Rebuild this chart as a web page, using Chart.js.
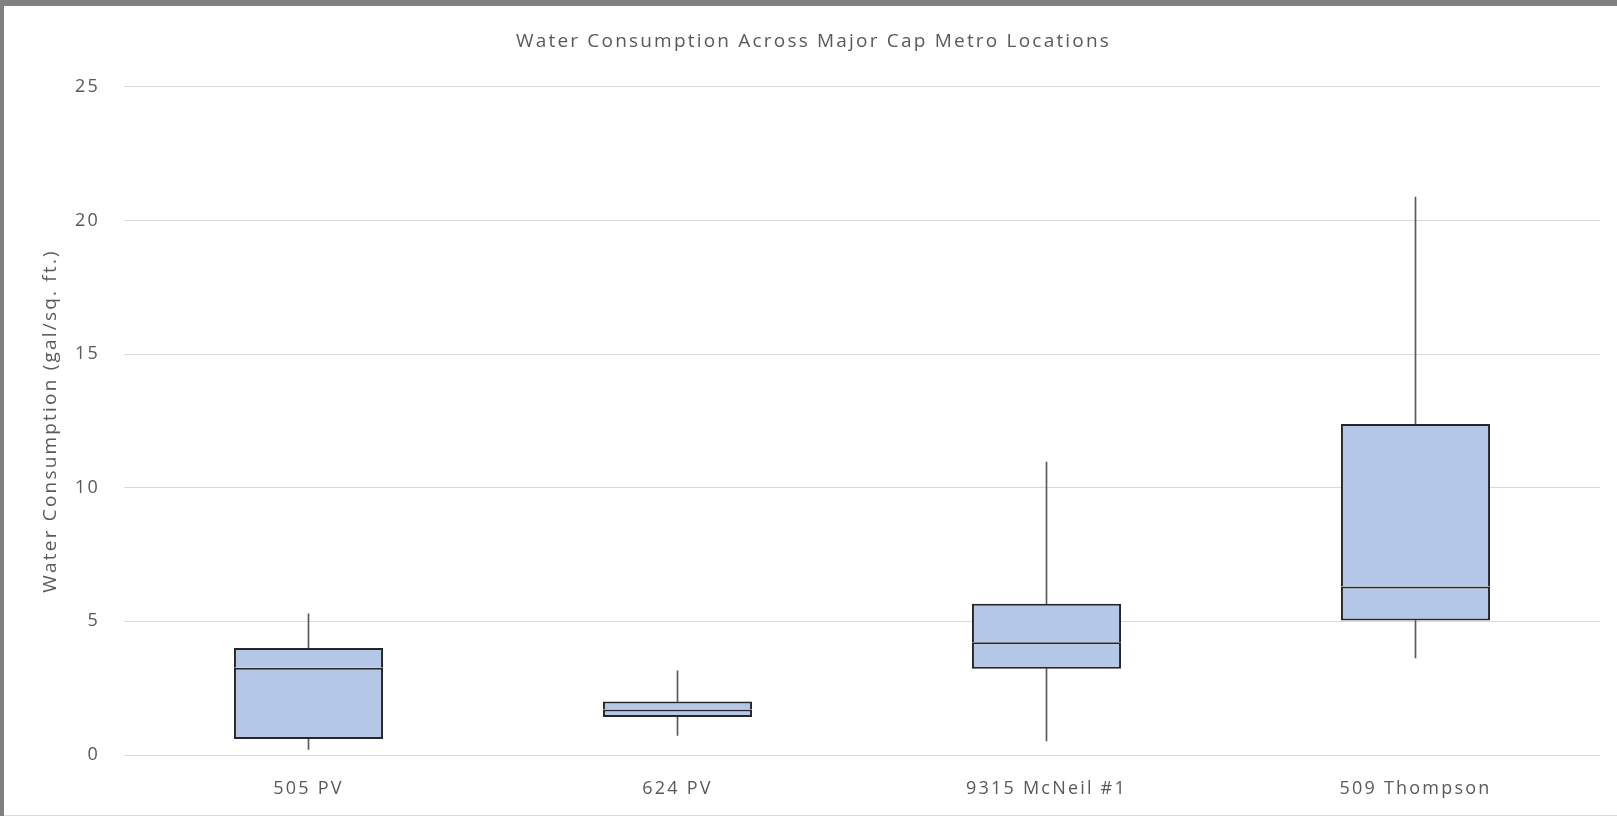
<!DOCTYPE html>
<html>
<head>
<meta charset="utf-8">
<script src="https://cdn.jsdelivr.net/npm/chart.js@4.4.1/dist/chart.umd.min.js"></script>
<style>
  html, body { margin: 0; padding: 0; background: #808080; }
  #wrap { position: absolute; left: 4px; top: 6px; width: 1613px; height: 809px; background: #ffffff; border-bottom: 1px solid #dcdcdc; }
  canvas { display: block; }
</style>
</head>
<body>
<div id="wrap"><canvas id="c" width="1613" height="809"></canvas></div>
<script>
const categories = ['505 PV', '624 PV', '9315 McNeil #1', '509 Thompson'];
const minValues    = [0.21, 0.73, 0.53, 3.63];
const q1Values     = [0.60, 1.42, 3.23, 5.03];
const medianValues = [3.26, 1.70, 4.22, 6.30];
const q3Values     = [4.00, 2.00, 5.66, 12.38];
const maxValues    = [5.28, 3.15, 10.96, 20.87];
const yTicks = [0, 5, 10, 15, 20, 25];

const pair = (a, b) => a.map((v, i) => [v, b[i]]);

const boxFill = '#b4c7e7';
const boxLine = '#262626';
const whiskerColor = '#595959';
const textColor = '#595959';
const fontFamily = '"Open Sans", "Noto Sans", "Liberation Sans", sans-serif';

const whiskerDs = (data) => ({
  data, backgroundColor: whiskerColor, borderWidth: 0,
  barThickness: 1, grouped: false, order: 3
});
const boxDs = (data, bw) => ({
  data, backgroundColor: boxFill, borderColor: boxLine, borderWidth: bw,
  borderSkipped: false, categoryPercentage: 1, barPercentage: 0.404,
  grouped: false, order: 1
});

const spacingPlugin = {
  id: 'spacing',
  beforeUpdate(chart) { chart.ctx.letterSpacing = '2.2px'; },
  beforeLayout(chart) { chart.ctx.letterSpacing = '2.2px'; },
  beforeDraw(chart) { chart.ctx.letterSpacing = '2.2px'; }
};

new Chart(document.getElementById('c'), {
  type: 'bar',
  plugins: [spacingPlugin],
  data: {
    labels: categories,
    datasets: [
      whiskerDs(pair(minValues, q1Values)),
      whiskerDs(pair(q3Values, maxValues)),
      boxDs(pair(q1Values, medianValues), { top: 2, bottom: 2, left: 2, right: 2 }),
      boxDs(pair(medianValues, q3Values), { top: 2, bottom: 0, left: 2, right: 2 })
    ]
  },
  options: {
    responsive: false,
    animation: false,
    layout: { padding: { left: 6, right: 0, top: 0, bottom: 0 } },
    plugins: {
      legend: { display: false },
      tooltip: { enabled: false },
      title: {
        display: true,
        text: 'Water Consumption Across Major Cap Metro Locations',
        color: textColor,
        font: { family: fontFamily, size: 19, weight: 'normal' },
        padding: { top: 24, bottom: 34 }
      }
    },
    scales: {
      x: {
        grid: { display: false, drawTicks: false },
        border: { display: false },
        ticks: { color: textColor, font: { family: fontFamily, size: 18 }, padding: 23 },
        afterFit: (s) => { s.height = 60; }
      },
      y: {
        min: 0, max: 25,
        afterBuildTicks: (s) => { s.ticks = yTicks.map(v => ({ value: v })); },
        grid: { color: '#d9d9d9', lineWidth: 1, drawTicks: false },
        border: { display: false },
        ticks: { color: textColor, font: { family: fontFamily, size: 18 }, padding: 24 },
        title: {
          display: true,
          text: 'Water Consumption (gal/sq. ft.)',
          color: textColor,
          font: { family: fontFamily, size: 19, weight: 'normal' },
          padding: { top: 29, bottom: 0 }
        },
        afterFit: (s) => { s.width = 114; }
      },
      yRight: {
        position: 'right',
        min: 0, max: 25,
        grid: { display: false, drawTicks: false },
        border: { display: false },
        ticks: { display: false },
        afterFit: (s) => { s.width = 17; }
      }
    }
  }
});
</script>
</body>
</html>
